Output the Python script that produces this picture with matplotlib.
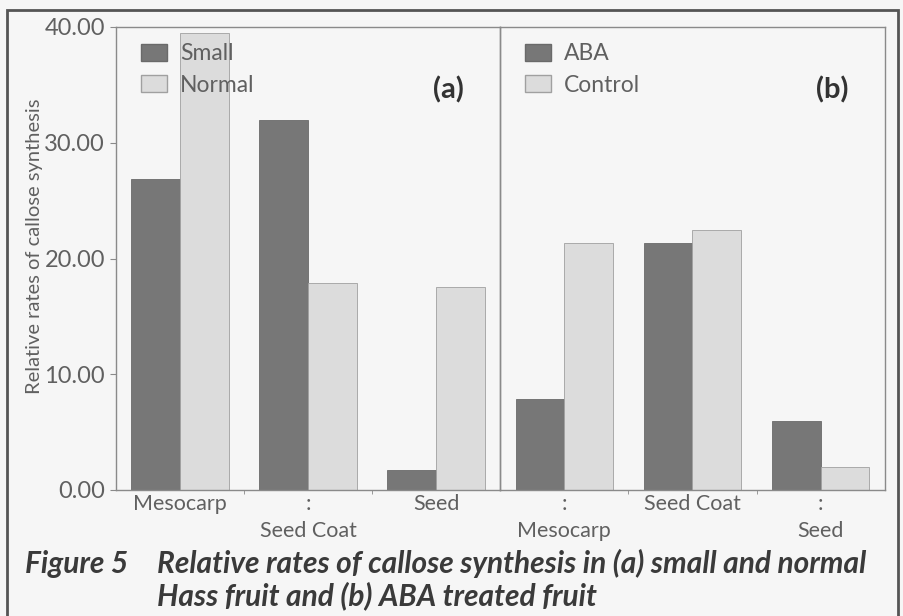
import matplotlib.pyplot as plt
from matplotlib.patches import Rectangle, Patch

# panel (a): small vs normal Hass fruit
tissues_a = ["Mesocarp", "Seed Coat", "Seed"]
small = [26.9, 32.0, 1.7]
normal = [39.5, 17.9, 17.5]

# panel (b): ABA treated vs control
tissues_b = ["Mesocarp", "Seed Coat", "Seed"]
aba = [7.9, 21.3, 6.0]
control = [21.3, 22.5, 2.0]

yticks = [0, 10, 20, 30, 40]

dark = "#777777"
light = "#dcdcdc"
bg = "#f6f6f6"
txt = "#606060"
edge = "#8a8a8a"
font = "Lato"

W, H = 904, 616
fig = plt.figure(figsize=(W / 100, H / 100), dpi=100, facecolor=bg)


def px(x0, y0, x1, y1):
    return [x0 / W, 1 - y1 / H, (x1 - x0) / W, (y1 - y0) / H]


ax_a = fig.add_axes(px(116, 27, 500, 490))
ax_b = fig.add_axes(px(500, 27, 885, 490))

bw = 0.379
for ax, s1, s2, names, labs, tag, stagger in [
        (ax_a, small, normal, tissues_a, ["Small", "Normal"], "(a)", [False, True, False]),
        (ax_b, aba, control, tissues_b, ["ABA", "Control"], "(b)", [True, False, True])]:
    x = range(len(names))
    ax.bar([i - bw for i in x], s1, width=bw, align="edge", color=dark,
           edgecolor="#6a6a6a", linewidth=0.6, zorder=2)
    ax.bar(list(x), s2, width=bw, align="edge", color=light,
           edgecolor="#a0a0a0", linewidth=0.6, zorder=2)
    ax.set_facecolor("none")
    ax.set_xlim(-0.5, 2.5)
    ax.set_ylim(0, 40)
    ax.set_xticks(list(x))
    ax.set_xticklabels([(":\n" + n) if st else n for n, st in zip(names, stagger)],
                       family=font, fontsize=15.5, color=txt,
                       linespacing=1.45)
    ax.set_xticks([0.5, 1.5], minor=True)
    ax.tick_params(axis="x", which="major", length=0, pad=3)
    ax.tick_params(axis="x", which="minor", length=3, color=edge)
    for sp in ax.spines.values():
        sp.set_color(edge)
        sp.set_linewidth(1.0)
    handles = [Patch(facecolor=dark, edgecolor="#6a6a6a"),
               Patch(facecolor=light, edgecolor="#a0a0a0")]
    ax.legend(handles, labs, loc="upper left", bbox_to_anchor=(0.066, 0.965),
              frameon=False, borderaxespad=0, borderpad=0,
              handlelength=1.1, handleheight=0.75,
              handletextpad=0.6, labelspacing=0.45,
              prop={"family": font, "size": 16.5},
              labelcolor=txt)
    ax.text(0.905, 0.865, tag, transform=ax.transAxes, ha="right", va="center",
            family=font, fontweight="bold", fontsize=21, color="#333333")

ax_a.set_yticks(yticks)
ax_a.set_yticklabels([f"{v:.2f}" for v in yticks], family=font,
                     fontsize=17, color=txt)
ax_a.tick_params(axis="y", length=4, color=edge, pad=4)
ax_a.set_ylabel("Relative rates of callose synthesis", family=font,
                fontsize=14.5, color=txt)
ax_a.yaxis.set_label_coords(-0.19, 0.527)

ax_b.set_yticks([])

# outer frame
fig.patches.append(Rectangle((7 / W, -0.02), 891 / W, 1.02 - 10 / H,
                             transform=fig.transFigure, fill=False,
                             edgecolor="#555555", linewidth=2))

cap = dict(family=font, fontweight="bold", style="italic", fontsize=21.5,
           color="#3a3a3a", va="baseline")
fig.text(25 / W, 1 - 573 / H, "Figure 5", **cap)
fig.text(157 / W, 1 - 573 / H,
         "Relative rates of callose synthesis in (a) small and normal", **cap)
fig.text(157 / W, 1 - 605 / H, "Hass fruit and (b) ABA treated fruit", **cap)

fig.savefig("out.png", dpi=100, facecolor=bg)
